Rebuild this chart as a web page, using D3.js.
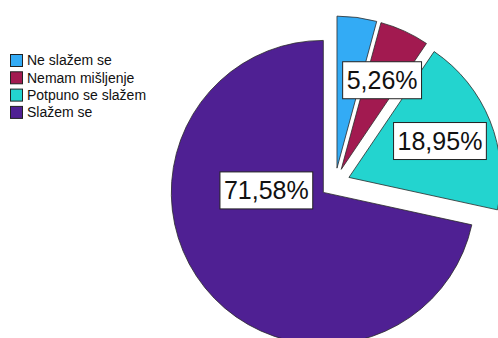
<!DOCTYPE html>
<html>
<head>
<meta charset="utf-8">
<script src="https://cdn.jsdelivr.net/npm/d3@7"></script>
<style>
  html, body { margin: 0; padding: 0; background: #fff; }
  svg { display: block; }
</style>
</head>
<body>
<svg id="chart" width="498" height="338"></svg>
<script>
// Survey answers (share of respondents, %)
const categories = ["Ne slažem se", "Nemam mišljenje", "Potpuno se slažem", "Slažem se"];
const values = [4.21, 5.26, 18.95, 71.58];
const colors = ["#33abf5", "#a21a50", "#23d4cf", "#4f2093"];
const showLabel = [false, true, true, true];

const width = 498, height = 338;
const cx = 335, cy = 183, radius = 152, explode = 15;

const svg = d3.select("#chart");

const pie = d3.pie().sort(null).value(d => d.value);
const arc = d3.arc().innerRadius(0).outerRadius(radius);

const data = categories.map((c, i) => ({ name: c, value: values[i], color: colors[i], label: showLabel[i] }));
const arcs = pie(data);

const offset = d => {
  const a = (d.startAngle + d.endAngle) / 2;
  return [Math.sin(a) * explode, -Math.cos(a) * explode];
};

const g = svg.append("g").attr("transform", `translate(${cx},${cy})`);

g.selectAll("path.slice")
  .data(arcs)
  .join("path")
  .attr("class", "slice")
  .attr("transform", d => { const [dx, dy] = offset(d); return `translate(${dx},${dy})`; })
  .attr("d", arc)
  .attr("fill", d => d.data.color)
  .attr("stroke", "#2a2a2a")
  .attr("stroke-width", 0.8);

// Label anchor: along the mid-angle for small slices; the large slice keeps its label
// near the middle of its visible part
const labelPos = d => {
  const [dx, dy] = offset(d);
  let a = (d.startAngle + d.endAngle) / 2;
  let r = radius * 0.645;
  if (d.endAngle - d.startAngle > Math.PI) { a = 272 * Math.PI / 180; r = radius * 0.375; }
  return [dx + Math.sin(a) * r, dy - Math.cos(a) * r];
};

const fmt = v => v.toFixed(2).replace(".", ",") + "%";

const labels = g.selectAll("g.lbl")
  .data(arcs.filter(d => d.data.label))
  .join("g")
  .attr("class", "lbl")
  .attr("transform", d => { const [x, y] = labelPos(d); return `translate(${x},${y})`; });

labels.each(function(d) {
  const sel = d3.select(this);
  const t = sel.append("text")
    .attr("text-anchor", "middle")
    .attr("dy", "0.36em")
    .attr("font-family", "'Liberation Sans', Arial, sans-serif")
    .attr("font-size", 25)
    .attr("fill", "#111")
    .text(fmt(d.data.value));
  const w = t.node().getComputedTextLength();
  sel.insert("rect", "text")
    .attr("x", -w / 2 - 4)
    .attr("y", -18.5)
    .attr("width", w + 8)
    .attr("height", 37)
    .attr("fill", "#fff")
    .attr("stroke", "#222")
    .attr("stroke-width", 1);
});

// Legend
const legend = svg.append("g").attr("transform", "translate(10,54)");
const rowH = 17.3;
const items = legend.selectAll("g.item")
  .data(data)
  .join("g")
  .attr("class", "item")
  .attr("transform", (d, i) => `translate(0,${i * rowH})`);

items.append("rect")
  .attr("x", 0.5).attr("y", 0.5)
  .attr("width", 12).attr("height", 12)
  .attr("fill", d => d.color)
  .attr("stroke", "#222")
  .attr("stroke-width", 1);

items.append("text")
  .attr("x", 17)
  .attr("y", 6.5)
  .attr("dy", "0.35em")
  .attr("font-family", "'Liberation Sans', Arial, sans-serif")
  .attr("font-size", 14)
  .attr("fill", "#111")
  .text(d => d.name);
</script>
</body>
</html>
